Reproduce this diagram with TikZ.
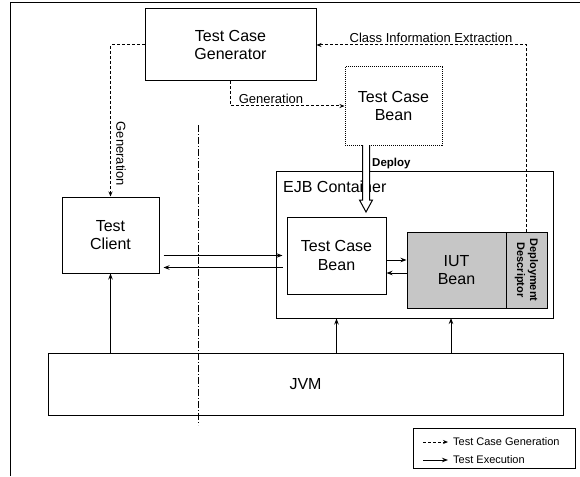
\documentclass[tikz,border=0pt]{standalone}
\usepackage{fontspec}
\setmainfont{Liberation Sans}
\usetikzlibrary{arrows.meta,calc}

\begin{document}
\begin{tikzpicture}[x=1pt, y=-1pt,
  box/.style={draw, line width=1pt, align=center, inner sep=0pt, font=\fontsize{16}{18.5}\selectfont},
  shaded/.style={box, fill=gray!45},
  gen/.style={line width=1pt, dash pattern=on 3pt off 2pt, -{Stealth[length=5pt,width=4pt]}},
  run/.style={line width=1pt, -{Stealth[length=6pt,width=4.5pt]}},
  lbl/.style={inner sep=1pt, font=\fontsize{13}{15}\selectfont}]
  \useasboundingbox (0,0) rectangle (580,476);

  % page frame (only top and left edges show)
  \draw[line width=1pt] (10,476) -- (10,3) -- (580,3);

  % generation side
  \node[box, minimum width=171pt, minimum height=72pt] (tcg) at (230.5,45) {Test Case\\Generator};
  \node[box, dash pattern=on 1pt off 1pt, minimum width=97pt, minimum height=78pt] (srcbean) at (393.5,106) {Test Case\\Bean};
  \node[box, minimum width=97pt, minimum height=76pt] (client) at (110.5,235) {Test\\Client};

  % container and beans inside
  \node[box, minimum width=277pt, minimum height=147pt] (ejb) at (414.5,244.5) {};
  \node[anchor=base west, inner sep=0pt, font=\fontsize{16}{18}\selectfont] (ejblabel) at (283,192) {EJB Container};
  \node[box, minimum width=99pt, minimum height=77pt] (bean) at (336.5,255.5) {Test Case\\Bean};
  \node[shaded, minimum width=99pt, minimum height=76pt] (iut) at (456.5,270) {IUT\\Bean};
  % rotated node: width runs down the page
  \node[shaded, minimum width=76pt, minimum height=41pt, rotate=-90,
        font=\fontsize{11}{13}\selectfont\bfseries] (dd) at (526.5,270) {Deployment\\Descriptor};

  \node[box, minimum width=515pt, minimum height=62pt] (jvm) at (305.5,384) {JVM};

  % dash-dot split line
  \coordinate (splitTop) at (198,125);
  \coordinate (splitBot) at (198,425);
  \draw[line width=1pt, dash pattern=on 7pt off 2pt on 1pt off 2pt] (splitTop) -- (splitBot);

  % generation flows
  \draw[gen] (tcg.west) -| (client.north);
  \node[lbl, rotate=-90] (genA) at (121,154) {Generation};
  \draw[gen] (tcg.south) |- (srcbean.west);
  \node[lbl, anchor=base] (genB) at (271,103) {Generation};
  \draw[gen] (dd.west) |- (tcg.east);
  \node[lbl, anchor=base] (cie) at (431,43) {Class Information Extraction};

  % deploy (hollow arrow)
  \coordinate (dep) at (366,145);
  \draw[line width=1pt, fill=white] ($(dep)+(-3.5,0)$) -- ++(0,55) -- ++(-3,0) -- ++(6.5,12)
    -- ++(6.5,-12) -- ++(-3,0) -- ++(0,-55);
  \node[anchor=base west, inner sep=0pt, font=\fontsize{11.5}{13}\selectfont\bfseries] (deploy) at (372,166) {Deploy};

  % execution flows
  \coordinate (iutTap) at (451,318);
  \draw[run, shorten <=4pt, shorten >=4pt] (client.east |- bean.west) -- (bean.west);
  \draw[run, shorten <=4pt, shorten >=4pt] ([yshift=-12pt]bean.west) -- ([yshift=-12pt]bean.west -| client.east);
  \draw[run] ([yshift=-4.5pt]bean.east) -- ([yshift=-4.5pt]bean.east -| iut.west);
  \draw[run] ([yshift=-17.5pt]bean.east -| iut.west) -- ([yshift=-17.5pt]bean.east);
  \draw[run] (jvm.north -| client.south) -- (client.south);
  \draw[run] (jvm.north -| bean.south) -- (ejb.south -| bean.south);
  \draw[run] (jvm.north -| iutTap) -- (iutTap);

  % legend
  \node[draw, line width=1pt, minimum width=162pt, minimum height=40pt] (legend) at (494,448) {};
  \node[anchor=west, inner sep=0pt, font=\fontsize{11}{13}\selectfont] (lgGen) at (453,442) {Test Case Generation};
  \node[anchor=west, inner sep=0pt, font=\fontsize{11}{13}\selectfont] (lgRun) at (453,460) {Test Execution};
  \coordinate (lgGenStart) at (423,442);
  \coordinate (lgRunStart) at (423,460);
  \draw[gen, shorten >=5pt] (lgGenStart) -- (lgGen.west);
  \draw[run, shorten >=5pt] (lgRunStart) -- (lgRun.west);

\end{tikzpicture}
\end{document}
